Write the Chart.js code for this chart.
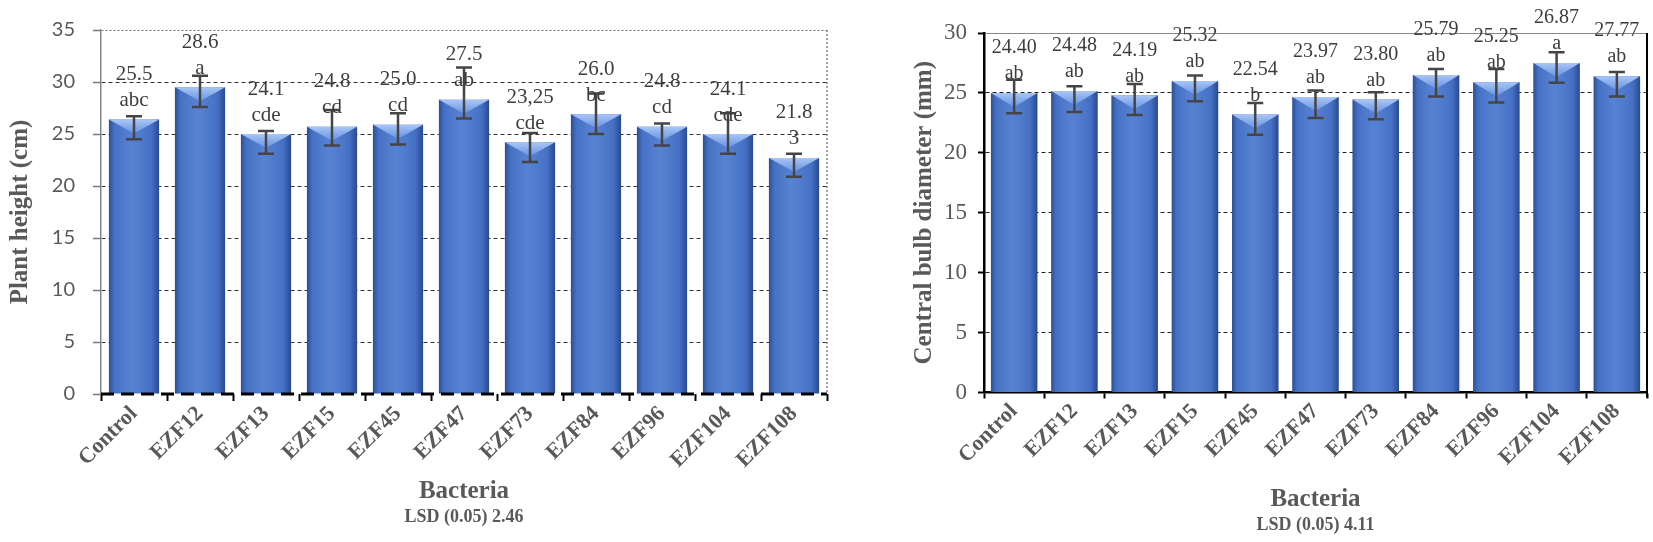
<!DOCTYPE html>
<html><head><meta charset="utf-8">
<script src="https://cdn.jsdelivr.net/npm/chart.js@4.4.1/dist/chart.umd.min.js"></script>
<style>
html,body{margin:0;padding:0;background:#fff;width:1653px;height:542px;overflow:hidden}
canvas{position:absolute;top:0}
#c1{left:0}
#c2{left:840px}
</style></head><body>
<canvas id="c1" width="840" height="542" style="width:840px;height:542px"></canvas>
<canvas id="c2" width="813" height="542" style="width:813px;height:542px"></canvas>
<script>
const categories = ["Control","EZF12","EZF13","EZF15","EZF45","EZF47","EZF73","EZF84","EZF96","EZF104","EZF108"];

// Chart 1: Plant height (cm)
const heightValues = [26.4, 29.5, 25.0, 25.7, 25.9, 28.3, 24.2, 26.9, 25.7, 25.0, 22.7];
const heightErrLow = [24.5, 27.6, 23.1, 23.9, 24.0, 26.5, 22.3, 25.0, 23.9, 23.1, 20.9];
const heightErrHigh = [26.7, 30.6, 25.3, 27.3, 27.0, 31.4, 25.1, 28.9, 26.0, 27.0, 23.1];
const heightValueLabels = ["25.5","28.6","24.1","24.8","25.0","27.5","23,25","26.0","24.8","24.1","21.8"];
const heightLetters = ["abc","a","cde","cd","cd","ab","cde","bc","cd","cde","3"];
const heightTicks = {min: 0, max: 35, step: 5};

// Chart 2: Central bulb diameter (mm)
const bulbValues = [25.0, 25.15, 24.8, 26.0, 23.2, 24.65, 24.45, 26.5, 25.9, 27.5, 26.4];
const bulbErrLow = [23.3, 23.4, 23.15, 24.3, 21.5, 22.9, 22.8, 24.7, 24.2, 25.85, 24.7];
const bulbErrHigh = [26.1, 25.55, 25.75, 26.45, 24.15, 25.2, 25.05, 27.0, 27.0, 28.4, 26.75];
const bulbValueLabels = ["24.40","24.48","24.19","25.32","22.54","23.97","23.80","25.79","25.25","26.87","27.77"];
const bulbLetters = ["ab","ab","ab","ab","b","ab","ab","ab","ab","a","ab"];
const bulbTicks = {min: 0, max: 30, step: 5};

const SERIF = "'Liberation Serif','Times New Roman',serif";
const GRAY = '#595959';

const decorPlugin = {
  id: 'decor',
  afterDatasetsDraw(chart, args, o) {
    const ctx = chart.ctx;
    const meta = chart.getDatasetMeta(0);
    const ys = chart.scales.y;
    const area = chart.chartArea;
    ctx.save();
    // bar shading
    meta.data.forEach((bar) => {
      const p = bar.getProps(['x','y','base','width'], true);
      const l = p.x - p.width/2, r = p.x + p.width/2;
      const g = ctx.createLinearGradient(l, 0, r, 0);
      g.addColorStop(0, 'rgba(15,35,90,0.50)');
      g.addColorStop(0.10, 'rgba(15,35,90,0.10)');
      g.addColorStop(0.45, 'rgba(255,255,255,0.07)');
      g.addColorStop(0.85, 'rgba(15,35,90,0.10)');
      g.addColorStop(1, 'rgba(15,35,90,0.55)');
      ctx.fillStyle = g;
      ctx.fillRect(l, p.y, p.width, p.base - p.y);
      const bh = Math.min(14, p.base - p.y);
      const tg = ctx.createLinearGradient(0, p.y, 0, p.y + bh);
      tg.addColorStop(0, '#a9c6f5');
      tg.addColorStop(1, '#6793e2');
      ctx.beginPath();
      ctx.moveTo(l, p.y); ctx.lineTo(r, p.y); ctx.lineTo(p.x, p.y + bh); ctx.closePath();
      ctx.fillStyle = tg; ctx.fill();
    });
    // dashed base line
    if (o.dashedBase) {
      const y0 = ys.getPixelForValue(0);
      ctx.setLineDash([13, 7]);
      ctx.lineWidth = 3; ctx.strokeStyle = '#000';
      ctx.beginPath(); ctx.moveTo(area.left, y0); ctx.lineTo(area.right, y0); ctx.stroke();
      ctx.setLineDash([]);
    }
    // right frame
    if (o.frame === 'dotted') {
      ctx.setLineDash([2, 2]); ctx.lineWidth = 1.2; ctx.strokeStyle = '#666';
      ctx.beginPath(); ctx.moveTo(area.right, area.top); ctx.lineTo(area.right, area.bottom); ctx.stroke();
      ctx.setLineDash([]);
    } else if (o.frame === 'solid') {
      ctx.lineWidth = 2; ctx.strokeStyle = '#000';
      ctx.beginPath(); ctx.moveTo(area.right, area.top); ctx.lineTo(area.right, area.bottom + 5); ctx.stroke();
    }
    // error bars
    ctx.strokeStyle = '#454545'; ctx.lineWidth = 2.5;
    meta.data.forEach((bar, i) => {
      const x = bar.x;
      const yl = ys.getPixelForValue(o.low[i]);
      const yh = ys.getPixelForValue(o.high[i]);
      ctx.beginPath();
      ctx.moveTo(x, yl); ctx.lineTo(x, yh);
      ctx.moveTo(x - 8, yl); ctx.lineTo(x + 8, yl);
      ctx.moveTo(x - 8, yh); ctx.lineTo(x + 8, yh);
      ctx.stroke();
    });
    // labels
    ctx.fillStyle = '#3d3d3d';
    ctx.font = o.labelFont;
    ctx.textAlign = 'center'; ctx.textBaseline = 'middle';
    meta.data.forEach((bar, i) => {
      ctx.fillText(o.values[i], bar.x, bar.y - o.valueOffset);
      ctx.fillText(o.letters[i], bar.x, bar.y - o.letterOffset);
    });
    // LSD
    ctx.fillStyle = GRAY;
    ctx.font = "bold 18px " + SERIF;
    ctx.fillText(o.lsd, (area.left + area.right) / 2, o.lsdY);
    ctx.restore();
  }
};

function makeChart(id, cfg) {
  return new Chart(document.getElementById(id), {
    type: 'bar',
    data: {
      labels: categories,
      datasets: [{
        data: cfg.values,
        backgroundColor: '#4a78cf',
        borderWidth: 0,
        barPercentage: cfg.barPct,
        categoryPercentage: 1.0
      }]
    },
    options: {
      responsive: false,
      animation: false,
      devicePixelRatio: 1,
      layout: {padding: cfg.padding},
      plugins: {
        legend: {display: false},
        tooltip: {enabled: false},
        decor: cfg.decor
      },
      scales: {
        x: {
          afterFit: (s) => { s.height = cfg.xHeight; },
          grid: {display: true, drawOnChartArea: false, offset: true, tickLength: cfg.xTickLen, tickColor: '#000', tickWidth: 2},
          border: cfg.xBorder,
          ticks: {
            maxRotation: 45, minRotation: 45, autoSkip: false, padding: 0,
            color: GRAY, font: {family: SERIF, weight: 'bold', size: 22}
          },
          title: {
            display: true, text: 'Bacteria', color: GRAY,
            font: {family: SERIF, weight: 'bold', size: 25},
            padding: {top: 0, bottom: cfg.xTitlePad}
          }
        },
        y: {
          min: cfg.ticks.min, max: cfg.ticks.max,
          afterFit: (s) => { s.width = cfg.yWidth; },
          ticks: {stepSize: cfg.ticks.step, padding: cfg.yTickPad, color: GRAY, font: cfg.yFont},
          grid: {
            color: cfg.gridColor, lineWidth: 1,
            tickLength: cfg.yTickLen, tickColor: cfg.yTickColor, tickWidth: cfg.yTickWidth,
            borderDash: cfg.gridDash
          },
          border: Object.assign({dash: cfg.gridDash}, cfg.yBorder),
          title: {
            display: true, text: cfg.yTitle, color: GRAY,
            font: {family: SERIF, weight: 'bold', size: 25},
            padding: {top: cfg.yTitlePad, bottom: 0}
          }
        }
      }
    },
    plugins: [decorPlugin]
  });
}

makeChart('c1', {
  values: heightValues,
  ticks: heightTicks,
  barPct: 0.76,
  padding: {left: 0, right: 13, top: 26, bottom: 0},
  xHeight: 148,
  xTickLen: 7,
  xBorder: {display: false},
  xTitlePad: 35,
  yWidth: 101,
  yTickPad: 18,
  yTickLen: 8,
  yTickColor: '#777',
  yTickWidth: 1.5,
  yFont: {family: "Lato, 'Open Sans', sans-serif", size: 20},
  gridColor: (c) => (c.tick && c.tick.value === 0) ? 'rgba(0,0,0,0)' : (c.tick && c.tick.value === 35 ? '#777' : '#333'),
  gridDash: (c) => (c.tick && c.tick.value === 35) ? [2, 2] : [4, 3],
  yBorder: {display: true, color: '#858585', width: 1.5},
  yTitle: 'Plant height (cm)',
  yTitlePad: 6,
  decor: {
    low: heightErrLow, high: heightErrHigh,
    values: heightValueLabels, letters: heightLetters,
    valueOffset: 45, letterOffset: 19,
    labelFont: "21px " + SERIF,
    dashedBase: true, frame: 'dotted',
    lsd: 'LSD (0.05) 2.46', lsdY: 517
  }
});

makeChart('c2', {
  values: bulbValues,
  ticks: bulbTicks,
  barPct: 0.77,
  padding: {left: 0, right: 6, top: 33, bottom: 0},
  xHeight: 149.5,
  xTickLen: 6,
  xBorder: {display: true, color: '#000', width: 2.5},
  xTitlePad: 27,
  yWidth: 144,
  yTickPad: 11,
  yTickLen: 6,
  yTickColor: '#000',
  yTickWidth: 2,
  yFont: {family: SERIF, size: 23},
  gridColor: (c) => (c.tick && c.tick.value === 0) ? 'rgba(0,0,0,0)' : (c.tick && c.tick.value === 30 ? '#888' : '#222'),
  gridDash: (c) => (c.tick && c.tick.value === 30) ? [] : [4, 3],
  yBorder: {display: true, color: '#000', width: 2.5},
  yTitle: 'Central bulb diameter (mm)',
  yTitlePad: 70,
  decor: {
    low: bulbErrLow, high: bulbErrHigh,
    values: bulbValueLabels, letters: bulbLetters,
    valueOffset: 45, letterOffset: 19,
    labelFont: "20px " + SERIF,
    dashedBase: false, frame: 'solid',
    lsd: 'LSD (0.05) 4.11', lsdY: 525
  }
});
</script>
</body></html>
